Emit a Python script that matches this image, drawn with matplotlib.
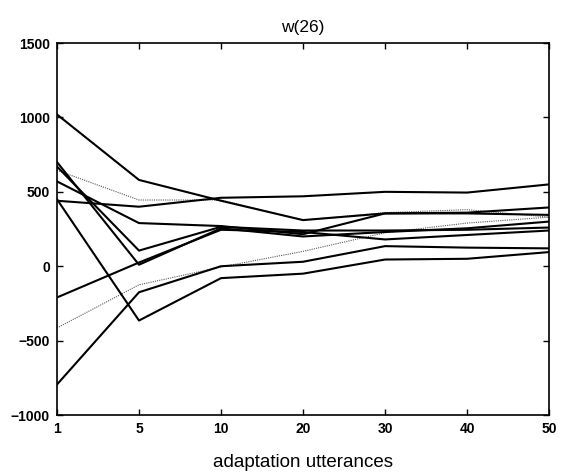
import numpy as np
from matplotlib import pyplot as plt

plt.rcParams['font.family'] = ['Liberation Sans', 'DejaVu Sans']

#---DATA---#
utterances = ['1', '5', '10', '20', '30', '40', '50']

w_a = [1020, 580, 440, 310, 355, 355, 345]
w_h = [440, 400, 460, 470, 500, 495, 550]
w_e = [570, 290, 270, 215, 355, 360, 395]
w_v1 = [700, 10, 255, 200, 230, 255, 300]
w_v2 = [670, 105, 265, 240, 240, 245, 260]
w_rise = [-210, 25, 245, 230, 180, 210, 240]
w_bottom = [-795, -175, 0, 30, 135, 125, 120]
w_steep = [450, -365, -80, -50, 45, 50, 95]

# the two thin ones
w_dot1 = [645, 445, 445, 310, 360, 380, 330]
w_dot2 = [-415, -125, -5, 100, 225, 290, 330]

solid = [w_a, w_h, w_e, w_v1, w_v2, w_rise, w_bottom, w_steep]
thin = [w_dot1, w_dot2]

#---PLOT---#
fig = plt.figure(figsize=(5.62, 4.73), dpi=100)
ax = fig.add_axes([0.1014, 0.1226, 0.8756, 0.7864])

xi = np.arange(len(utterances))
for w in thin:
    ax.plot(xi, w, color='0.35', lw=0.8, ls=(0, (1, 1)))
for w in solid:
    ax.plot(xi, w, color='black', lw=1.5)

ax.set_xlim(0, len(utterances) - 1)
ax.set_ylim(-1000, 1500)
ax.set_xticks(xi)
ax.set_xticklabels(utterances)
ax.set_yticks(np.arange(-1000, 1501, 500))

ax.tick_params(direction='in', top=True, right=True, length=4, width=1,
               labelsize=10, pad=5)
for lbl in ax.get_xticklabels() + ax.get_yticklabels():
    lbl.set_fontweight('bold')
for s in ax.spines.values():
    s.set_linewidth(1.2)

ax.set_title('w(26)', fontsize=12.5, pad=8)
ax.set_xlabel('adaptation utterances', fontsize=13.5, labelpad=13)

fig.savefig('out.png', dpi=100)
